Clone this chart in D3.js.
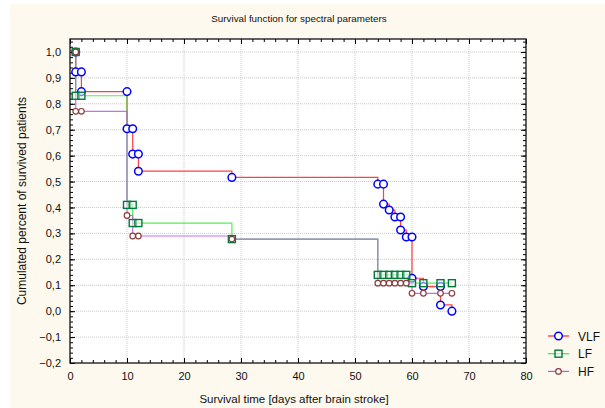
<!DOCTYPE html>
<html>
<head>
<meta charset="utf-8">
<script src="https://cdn.jsdelivr.net/npm/d3@7"></script>
<style>
  body { margin: 0; background: white; }
  text { font-family: "Liberation Sans", Arial, sans-serif; fill: #111; }
</style>
</head>
<body>
<svg id="chart" width="605" height="408"></svg>
<script>
// series data (time in days, survival fraction)
const vlfTime  = [1, 1, 2, 2, 10, 10, 11, 11, 12, 12, 28.4, 54, 55, 55, 56, 57, 58, 58, 59, 60, 60, 62, 65, 65, 67];
const vlfValue = [1.0, 0.923, 0.923, 0.847, 0.847, 0.704, 0.704, 0.606, 0.606, 0.54, 0.516, 0.49, 0.49, 0.413, 0.39, 0.363, 0.363, 0.313, 0.286, 0.286, 0.127, 0.095, 0.095, 0.024, 0.0];

const lfTime  = [1, 1, 2, 10, 11, 11, 12, 28.4, 54, 55, 56, 57, 58, 59, 60, 62, 65, 67];
const lfValue = [1.0, 0.831, 0.831, 0.41, 0.41, 0.34, 0.34, 0.278, 0.14, 0.14, 0.14, 0.14, 0.14, 0.14, 0.108, 0.108, 0.108, 0.108];

const hfTime  = [1, 1, 2, 10, 11, 12, 28.4, 54, 55, 56, 57, 58, 59, 60, 62, 65, 67];
const hfValue = [1.0, 0.771, 0.771, 0.369, 0.29, 0.29, 0.278, 0.108, 0.108, 0.108, 0.108, 0.108, 0.108, 0.069, 0.069, 0.069, 0.069];

const seriesNames = ["VLF", "LF", "HF"];
const xTicks = [0, 10, 20, 30, 40, 50, 60, 70, 80];
const yTicks = [-0.2, -0.1, 0, 0.1, 0.2, 0.3, 0.4, 0.5, 0.6, 0.7, 0.8, 0.9, 1.0];

const svg = d3.select("#chart");

// cream page background
svg.append("rect").attr("x", 10).attr("y", 4).attr("width", 595).attr("height", 404).attr("fill", "#fdf9ee");

const plotLeft = 70, plotRight = 526, plotTop = 39, plotBottom = 363;
const x = d3.scaleLinear().domain([0, 80]).range([plotLeft, plotRight]);
const y = d3.scaleLinear().domain([-0.2, 1.05]).range([plotBottom, plotTop]);

svg.append("rect").attr("x", plotLeft).attr("y", plotTop)
    .attr("width", plotRight - plotLeft).attr("height", plotBottom - plotTop).attr("fill", "white");

// grid
const grid = svg.append("g");
xTicks.slice(1, -1).forEach(t => {
    grid.append("line").attr("x1", x(t)).attr("x2", x(t)).attr("y1", plotTop).attr("y2", plotBottom)
        .attr("stroke", "#c8c8c8").attr("stroke-dasharray", "1,1");
});
yTicks.slice(1).forEach(t => {
    grid.append("line").attr("x1", plotLeft).attr("x2", plotRight).attr("y1", y(t)).attr("y2", y(t))
        .attr("stroke", "#c8c8c8").attr("stroke-dasharray", "1,1");
});

// axes with inward ticks on all four sides
const fmt = d => d3.format(".1f")(d).replace(".", ",");
const xMinor = d3.range(0, 81, 2);
const yMinor = d3.range(-0.2, 1.051, 0.02);

svg.append("g").attr("transform", `translate(0,${plotBottom})`)
    .call(d3.axisBottom(x).tickValues(xMinor).tickSize(-3).tickFormat(""))
    .call(g => g.select(".domain").remove());
svg.append("g").attr("transform", `translate(0,${plotBottom})`)
    .call(d3.axisBottom(x).tickValues(xTicks).tickSize(-5).tickPadding(9).tickFormat(d3.format("d")))
    .call(g => g.select(".domain").remove())
    .call(g => g.selectAll("text").style("font-size", "11px").attr("fill", "#111"));
svg.append("g").attr("transform", `translate(0,${plotTop})`)
    .call(d3.axisTop(x).tickValues(xMinor).tickSize(-3).tickFormat(""))
    .call(g => g.select(".domain").remove());
svg.append("g").attr("transform", `translate(0,${plotTop})`)
    .call(d3.axisTop(x).tickValues(xTicks).tickSize(-5).tickFormat(""))
    .call(g => g.select(".domain").remove());

svg.append("g").attr("transform", `translate(${plotLeft},0)`)
    .call(d3.axisLeft(y).tickValues(yMinor).tickSize(-3).tickFormat(""))
    .call(g => g.select(".domain").remove());
svg.append("g").attr("transform", `translate(${plotLeft},0)`)
    .call(d3.axisLeft(y).tickValues(yTicks).tickSize(-5).tickPadding(9).tickFormat(fmt))
    .call(g => g.select(".domain").remove())
    .call(g => g.selectAll("text").style("font-size", "11px").attr("fill", "#111"));
svg.append("g").attr("transform", `translate(${plotRight},0)`)
    .call(d3.axisRight(y).tickValues(yMinor).tickSize(-3).tickFormat(""))
    .call(g => g.select(".domain").remove());
svg.append("g").attr("transform", `translate(${plotRight},0)`)
    .call(d3.axisRight(y).tickValues(yTicks).tickSize(-5).tickFormat(""))
    .call(g => g.select(".domain").remove());

svg.append("rect").attr("x", plotLeft).attr("y", plotTop)
    .attr("width", plotRight - plotLeft).attr("height", plotBottom - plotTop)
    .attr("fill", "none").attr("stroke", "#111").attr("stroke-width", 1.3);

// series
const series = [
    { name: "VLF", t: vlfTime, v: vlfValue, line: "#ff2020", mark: "#0000ff", shape: "circle", r: 3.8 },
    { name: "LF", t: lfTime, v: lfValue, line: "#33ee33", mark: "#007a3a", shape: "square", r: 3.5 },
    { name: "HF", t: hfTime, v: hfValue, line: "#bb55ee", mark: "#8a3b3b", shape: "circle", r: 2.8 }
];

const line = d3.line().x(d => x(d[0])).y(d => y(d[1])).curve(d3.curveStepAfter);

function drawMarker(g, s, cx, cy) {
    if (s.shape === "square") {
        g.append("rect").attr("x", cx - s.r).attr("y", cy - s.r).attr("width", 2 * s.r).attr("height", 2 * s.r)
            .attr("fill", "white").attr("fill-opacity", 0.5).attr("stroke", s.mark).attr("stroke-width", 1.4);
    } else {
        g.append("circle").attr("cx", cx).attr("cy", cy).attr("r", s.r)
            .attr("fill", "white").attr("stroke", s.mark).attr("stroke-width", s.name === "VLF" ? 1.5 : 1.2);
    }
}

series.forEach(s => {
    const pts = s.t.map((t, i) => [t, s.v[i]]);
    svg.append("path").datum(pts).attr("d", line)
        .attr("fill", "none").attr("stroke", s.line).attr("stroke-width", 1.2).attr("stroke-opacity", 0.85);
});
series.forEach(s => {
    const g = svg.append("g");
    s.t.forEach((t, i) => drawMarker(g, s, x(t), y(s.v[i])));
});

// titles
svg.append("text").attr("x", 299).attr("y", 22).attr("text-anchor", "middle").style("font-size", "9.8px")
    .text("Survival function for spectral parameters");
svg.append("text").attr("x", 294).attr("y", 403).attr("text-anchor", "middle").style("font-size", "11.5px")
    .text("Survival time [days after brain stroke]");
svg.append("text").attr("transform", "translate(26,201) rotate(-90)").attr("text-anchor", "middle").style("font-size", "12px")
    .text("Cumulated percent of survived patients");

// legend
const legend = svg.append("g");
series.forEach((s, i) => {
    const ly = 336 + i * 17.7;
    legend.append("line").attr("x1", 548).attr("x2", 569).attr("y1", ly).attr("y2", ly)
        .attr("stroke", s.line).attr("stroke-width", 1.2);
    drawMarker(legend, s, 558.5, ly);
    legend.append("text").attr("x", 578).attr("y", ly + 4.5).style("font-size", "12px").text(seriesNames[i]);
});
</script>
</body>
</html>
